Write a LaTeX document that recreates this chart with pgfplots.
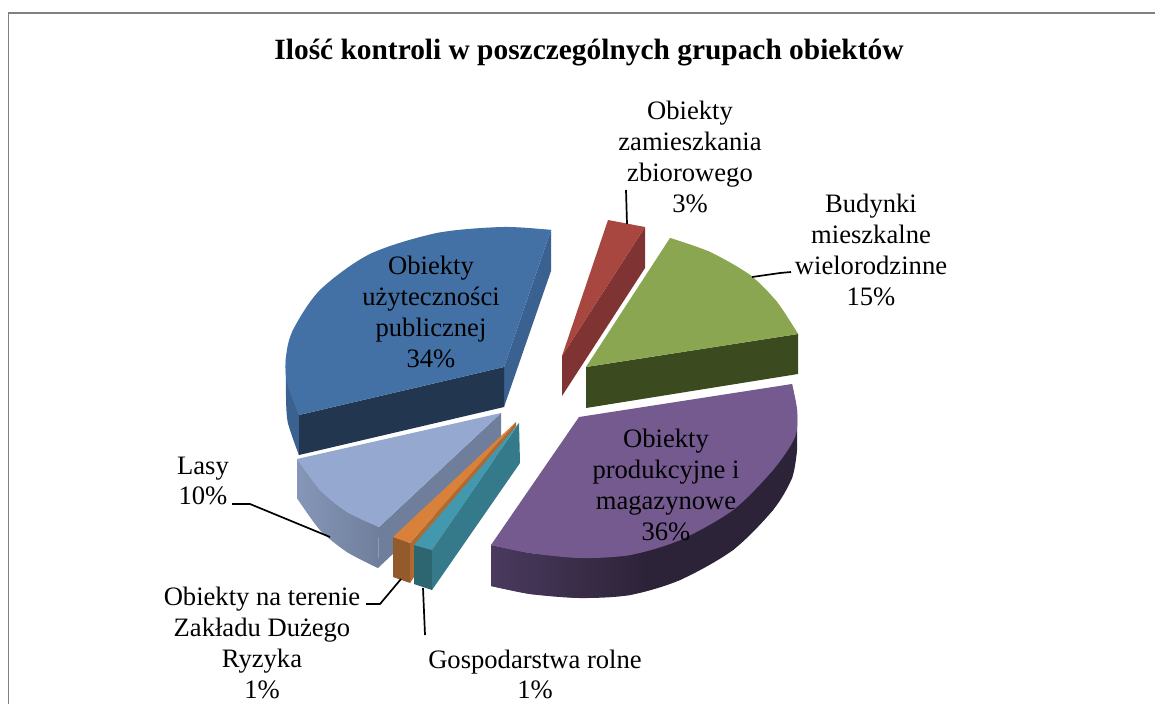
\documentclass[border=0pt]{standalone}
\usepackage{pgfplots}
\usepackage{fontspec}
\setmainfont{Liberation Serif}
\pgfplotsset{compat=1.18}
\definecolor{blueT}{HTML}{4371A6}
\definecolor{blueF}{HTML}{223650}
\definecolor{blueW}{HTML}{3A6190}
\definecolor{lbT}{HTML}{95A9D0}
\definecolor{lbW}{HTML}{6F7F9B}
\definecolor{lbA}{HTML}{8596B8}
\definecolor{orT}{HTML}{D9813A}
\definecolor{orF}{HTML}{935B2C}
\definecolor{orD}{HTML}{B0692F}
\definecolor{teT}{HTML}{4198AF}
\definecolor{teF}{HTML}{2D6671}
\definecolor{teW}{HTML}{347A8A}
\definecolor{puT}{HTML}{755A90}
\definecolor{puF}{HTML}{2D2339}
\definecolor{puL}{HTML}{4A3A5E}
\definecolor{grT}{HTML}{8AA650}
\definecolor{grF}{HTML}{3C4A20}
\definecolor{reT}{HTML}{A84640}
\definecolor{reF}{HTML}{7F3332}
\newcommand{\lab}[3]{\node[align=center,font=\fontsize{26.6}{30.8}\selectfont,text=black,inner sep=0pt] at (axis cs:#1,#2) {#3};}
\begin{document}
\begin{tikzpicture}
\path[clip,use as bounding box] (0,0) rectangle (1155pt,704pt);
\begin{axis}[
  at={(0,0)},anchor=south west,
  scale only axis,width=1155pt,height=704pt,
  xmin=0,xmax=1155,ymin=0,ymax=704,y dir=reverse,
  hide axis,clip=false]
% frame
\addplot[draw=none,fill=white,forget plot] coordinates {(0,0)(1155,0)(1155,704)(0,704)} --cycle;
\addplot[draw=black!50,line width=1.4pt,forget plot] coordinates {(8.5,704)(8.5,13)(1155,13)};
% blue
\addplot[draw=none,fill=blueW,smooth] coordinates {(286,357)(286,397)(288,423)(299,455)};
\addplot[draw=none,fill=blueW] coordinates {(286,357)(286,397)(288,423)(299,455)(299,415)} --cycle;
\addplot[draw=none,fill=blueW] coordinates {(551,230)(551,271)(504,407)(504,367)} --cycle;
\addplot[draw=none,fill=blueF] coordinates {(299,415)(504,367)(504,407)(299,455)} --cycle;
\addplot[draw=none,fill=blueT] coordinates {(504,367)(551,230)(503,227)(437,233)(370,254)(320,290)(293,330)(286,357)(287,383)(299,415)} --cycle;
\addplot[draw=none,fill=blueT,smooth] coordinates {(551,230)(503,227)(437,233)(370,254)(320,290)(293,330)(286,357)(287,383)(299,415)};
% light blue
\addplot[draw=none,left color=lbA,right color=lbW,smooth] coordinates {(297,498)(320,530)(347,552)(378,568)};
\addplot[draw=none,left color=lbA,right color=lbW] coordinates {(297,459)(320,490)(347,512)(379,527)(378,568)(347,552)(320,530)(297,498)} --cycle;
\addplot[draw=none,fill=lbW] coordinates {(501,413)(501,452)(378,568)(379,527)} --cycle;
\addplot[draw=none,fill=lbT] coordinates {(501,413)(297,459)(320,490)(347,512)(379,527)} --cycle;
\addplot[draw=none,fill=lbT,smooth] coordinates {(297,459)(320,490)(347,512)(379,527)};
% orange
\addplot[draw=none,fill=orD] coordinates {(516,422)(516,426)(410,583)(410,543)} --cycle;
\addplot[draw=none,fill=orF] coordinates {(393,537)(410,543)(410,583)(393,577)} --cycle;
\addplot[draw=none,fill=orT] coordinates {(516,422)(393,537)(410,543)} --cycle;
% teal
\addplot[draw=none,fill=teF] coordinates {(414,545)(432,550)(432,590)(414,584)} --cycle;
\addplot[draw=none,fill=teW] coordinates {(519,423)(520,463)(432,590)(432,550)} --cycle;
\addplot[draw=none,fill=teT] coordinates {(519,423)(414,545)(432,550)} --cycle;
% purple
\addplot[draw=none,left color=puL,right color=puF,middle color=puF,smooth] coordinates {(491,586)(530,594)(580,598)(630,595)(680,580)(733,550)(773,510)(792,478)(797,450)};
\addplot[draw=none,left color=puL,right color=puF,middle color=puF] coordinates {(491,545)(530,553)(580,558)(630,555)(680,540)(733,510)(773,470)(795,437)(797,410)(797,450)(792,478)(773,510)(733,550)(680,580)(630,595)(580,598)(530,594)(491,586)} --cycle;
\addplot[draw=none,fill=puT] coordinates {(579,417)(792,384)(797,410)(795,437)(773,470)(733,510)(680,540)(630,555)(580,558)(530,553)(491,545)} --cycle;
\addplot[draw=none,fill=puT,smooth] coordinates {(792,384)(797,410)(795,437)(773,470)(733,510)(680,540)(630,555)(580,558)(530,553)(491,545)};
% green
\addplot[draw=none,fill=grF] coordinates {(586,367)(798,334)(798,374)(586,408)} --cycle;
\addplot[draw=none,fill=grT] coordinates {(586,367)(670,238)(710,252)(750,275)(777,302)(798,334)} --cycle;
\addplot[draw=none,fill=grT,smooth] coordinates {(670,238)(710,252)(750,275)(777,302)(798,334)};
% red
\addplot[draw=none,fill=reF] coordinates {(645,227)(645,268)(562,396)(562,356)} --cycle;
\addplot[draw=none,fill=reT] coordinates {(608,220)(645,227)(562,356)} --cycle;
% leaders
\addplot[black,line width=1.7pt] coordinates {(626,190)(627,224)};
\addplot[black,line width=1.7pt] coordinates {(752,277)(780,273)(791,272)};
\addplot[black,line width=1.7pt] coordinates {(232,504)(250,504)(330,537)};
\addplot[black,line width=1.7pt] coordinates {(366,604)(380,604)(401,579)};
\addplot[black,line width=1.7pt] coordinates {(423,588)(425,635)};
% text
\node[font=\fontsize{29.4}{34}\selectfont\bfseries,inner sep=0pt] at (axis cs:589,53) {Ilość kontroli w poszczególnych grupach obiektów};
\lab{690}{157}{Obiekty\\zamieszkania\\zbiorowego\\3\%}
\lab{871}{250}{Budynki\\mieszkalne\\wielorodzinne\\15\%}
\lab{431}{312}{Obiekty\\użyteczności\\publicznej\\34\%}
\lab{666}{485}{Obiekty\\produkcyjne i\\magazynowe\\36\%}
\lab{203}{481}{Lasy\\10\%}
\lab{262}{643}{Obiekty na terenie\\Zakładu Dużego\\Ryzyka\\1\%}
\lab{535}{674.5}{Gospodarstwa rolne\\1\%}
\end{axis}
\end{tikzpicture}
\end{document}
